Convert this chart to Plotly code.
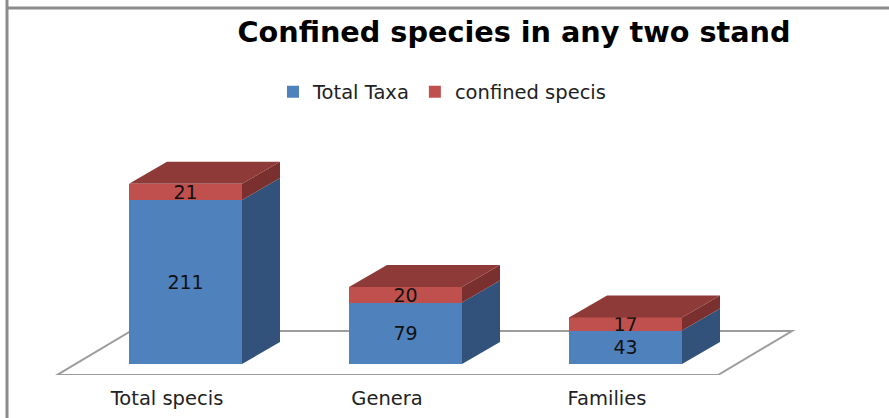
import plotly.graph_objects as go

categories = ["Total specis", "Genera", "Families"]
total_taxa = [211, 79, 43]
confined_species = [21, 20, 17]

BLUE = "#4f81bd"
BLUE_SIDE = "#33527b"
RED = "#c0504d"
RED_SIDE = "#7a302e"
RED_TOP = "#8e3a38"
GREY = "#9c9c9c"
FRAME = "#8c8c8c"
FONT = "DejaVu Sans"

WIDTH, HEIGHT = 889, 418
PX_PER_CAT = 220
PX_PER_UNIT = 0.777
FIRST_CENTER_PX = 185.5
BASE_PX = 364
FLOOR_PX = 375

BAR_W = 113 / PX_PER_CAT
DEPTH_X = 38 / PX_PER_CAT
DEPTH_Y = 22 / PX_PER_UNIT


def to_x(px):
    return (px - FIRST_CENTER_PX) / PX_PER_CAT


def to_y(py):
    return (BASE_PX - py) / PX_PER_UNIT


def side_face(i, low, high, color):
    right = i + BAR_W / 2
    return go.Scatter(
        x=[right, right + DEPTH_X, right + DEPTH_X, right, right],
        y=[low, low + DEPTH_Y, high + DEPTH_Y, high, low],
        mode="lines",
        line=dict(width=0),
        fill="toself",
        fillcolor=color,
        showlegend=False,
        hoverinfo="skip",
    )


def top_face(i, level, color):
    left, right = i - BAR_W / 2, i + BAR_W / 2
    return go.Scatter(
        x=[left, right, right + DEPTH_X, left + DEPTH_X, left],
        y=[level, level, level + DEPTH_Y, level + DEPTH_Y, level],
        mode="lines",
        line=dict(width=0),
        fill="toself",
        fillcolor=color,
        showlegend=False,
        hoverinfo="skip",
    )


positions = list(range(len(categories)))

fig = go.Figure()
for name, values, color in [("Total Taxa", total_taxa, BLUE), ("confined specis", confined_species, RED)]:
    fig.add_trace(go.Bar(
        name=name,
        x=positions,
        y=values,
        width=BAR_W,
        marker=dict(color=color, line=dict(width=0)),
        text=values,
        textposition="inside",
        insidetextanchor="middle",
        textangle=0,
        constraintext="none",
        textfont=dict(family=FONT, size=19, color="#111111"),
    ))

for i, (blue, red) in enumerate(zip(total_taxa, confined_species)):
    fig.add_trace(side_face(i, 0, blue, BLUE_SIDE))
    fig.add_trace(side_face(i, blue, blue + red, RED_SIDE))
    fig.add_trace(top_face(i, blue + red, RED_TOP))

# floor of the 3D box, drawn under the bars
floor = [(57, 375), (718, 375), (792, 331), (131, 331)]
floor_path = "M " + " L ".join(f"{to_x(px)} {to_y(py)}" for px, py in floor) + " Z"
fig.add_shape(type="path", path=floor_path, layer="below", line=dict(color=GREY, width=2))

# frame left over from the document the chart was pasted in
fig.add_shape(type="line", xref="paper", yref="paper", x0=7 / WIDTH, x1=7 / WIDTH, y0=-1, y1=1,
              line=dict(color=FRAME, width=3))
fig.add_shape(type="line", xref="paper", yref="paper", x0=6 / WIDTH, x1=1, y0=1 - 8 / FLOOR_PX, y1=1 - 8 / FLOOR_PX,
              line=dict(color=FRAME, width=3))

fig.update_layout(
    width=WIDTH,
    height=HEIGHT,
    margin=dict(l=0, r=0, t=0, b=HEIGHT - FLOOR_PX),
    paper_bgcolor="white",
    plot_bgcolor="white",
    barmode="stack",
    title=dict(
        text="<b>Confined species in any two stand</b>",
        x=514 / WIDTH,
        xanchor="center",
        y=1 - 32 / HEIGHT,
        yanchor="middle",
        font=dict(family=FONT, size=28.7, color="black"),
    ),
    legend=dict(
        orientation="h",
        traceorder="normal",
        x=442 / WIDTH,
        xanchor="center",
        y=1 - 92 / FLOOR_PX,
        yanchor="middle",
        font=dict(family=FONT, size=19.5, color="#222222"),
    ),
)
fig.update_xaxes(
    range=[to_x(0), to_x(WIDTH)],
    tickmode="array",
    tickvals=[i + to_x(167) for i in positions],
    ticktext=categories,
    ticks="outside",
    ticklen=6,
    tickcolor="rgba(0,0,0,0)",
    tickfont=dict(family=FONT, size=19.5, color="#222222"),
    showgrid=False,
    zeroline=False,
    showline=False,
)
fig.update_yaxes(range=[to_y(FLOOR_PX), to_y(0)], visible=False)

fig.write_html(
    "out.html",
    config=dict(displayModeBar=False),
    post_script="document.body.style.margin='0';document.body.style.overflow='hidden';",
)
